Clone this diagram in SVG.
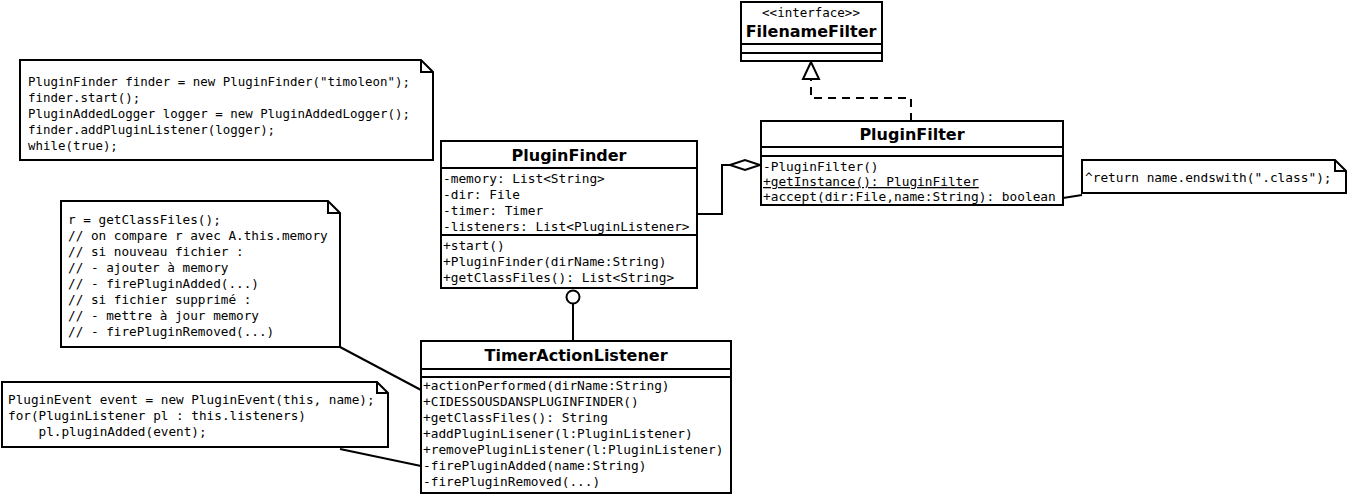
<svg xmlns="http://www.w3.org/2000/svg" width="1348" height="496" viewBox="0 0 1348 496">
<style>
.box{fill:#fff;stroke:#000;stroke-width:2}
.ln{fill:none;stroke:#000;stroke-width:2}
.m{font-family:"DejaVu Sans Mono","Liberation Mono",monospace;font-size:12.8px;fill:#000}
.n{font-family:"DejaVu Sans Mono","Liberation Mono",monospace;font-size:12.7px;fill:#000}
.t{font-family:"DejaVu Sans","Liberation Sans",sans-serif;font-weight:bold;font-size:16px;fill:#000;text-anchor:middle}
.s{font-family:"DejaVu Sans Mono","Liberation Mono",monospace;font-size:12.5px;fill:#000;text-anchor:middle}
</style>
<rect width="1348" height="496" fill="#fff"/>
<g id="connectors">
<path class="ln" d="M911,121 V98 H811 V79" stroke-dasharray="8,6"/>
<polygon points="811,62 803,79 819,79" fill="#fff" stroke="#000" stroke-width="2"/>
<path class="ln" d="M698,214 H722 V165 H730"/>
<polygon points="730,165 745,160 760,165 745,170" fill="#fff" stroke="#000" stroke-width="2"/>
<path class="ln" d="M573,304 V341"/>
<circle cx="573" cy="297" r="6.5" fill="#fff" stroke="#000" stroke-width="2"/>
<path class="ln" d="M1063,198 L1082,195"/>
<path class="ln" d="M340,347 L421,390"/>
<path class="ln" d="M340,449 L421,466"/>
</g>
<g id="note-main">
<path class="box" d="M20,60 H421 L433,72 V160 H20 Z"/>
<path class="ln" d="M421,60 V72 H433"/>
<text class="n" x="28" y="86" style="font-size:12.45px">PluginFinder finder = new PluginFinder("timoleon");</text>
<text class="n" x="28" y="102" style="font-size:12.45px">finder.start();</text>
<text class="n" x="28" y="118" style="font-size:12.45px">PluginAddedLogger logger = new PluginAddedLogger();</text>
<text class="n" x="28" y="134" style="font-size:12.45px">finder.addPluginListener(logger);</text>
<text class="n" x="28" y="150" style="font-size:12.45px">while(true);</text>
</g>
<g id="FilenameFilter">
<rect class="box" x="741" y="2" width="141" height="59"/>
<text class="s" x="811" y="17">&lt;&lt;interface&gt;&gt;</text>
<text class="t" x="811" y="37">FilenameFilter</text>
<path class="ln" d="M741,44 H882 M741,53 H882"/>
</g>
<g id="PluginFilter">
<rect class="box" x="761" y="121" width="302" height="84"/>
<text class="t" x="912" y="140">PluginFilter</text>
<path class="ln" d="M761,147 H1063 M761,156 H1063"/>
<text class="m" x="763" y="171">-PluginFilter()</text>
<text class="m" x="763" y="186" text-decoration="underline">+getInstance(): PluginFilter</text>
<text class="m" x="763" y="201">+accept(dir:File,name:String): boolean</text>
</g>
<g id="note-filter">
<path class="box" d="M1082,160 H1335 L1346,171 V193 H1082 Z"/>
<path class="ln" d="M1335,160 V171 H1346"/>
<text class="m" x="1085" y="182">^return name.endswith(".class");</text>
</g>
<g id="PluginFinder">
<rect class="box" x="441" y="141" width="256" height="147"/>
<text class="t" x="569" y="161">PluginFinder</text>
<path class="ln" d="M441,168 H697 M441,235 H697"/>
<text class="m" x="443" y="183">-memory: List&lt;String&gt;</text>
<text class="m" x="443" y="199">-dir: File</text>
<text class="m" x="443" y="215">-timer: Timer</text>
<text class="m" x="443" y="231">-listeners: List&lt;PluginListener&gt;</text>
<text class="m" x="443" y="250">+start()</text>
<text class="m" x="443" y="266">+PluginFinder(dirName:String)</text>
<text class="m" x="443" y="282">+getClassFiles(): List&lt;String&gt;</text>
</g>
<g id="note-timer">
<path class="box" d="M61,201 H328 L340,213 V347 H61 Z"/>
<path class="ln" d="M328,201 V213 H340"/>
<text class="n" x="68" y="224">r = getClassFiles();</text>
<text class="n" x="68" y="240">// on compare r avec A.this.memory</text>
<text class="n" x="68" y="256">// si nouveau fichier :</text>
<text class="n" x="68" y="272">// - ajouter à memory</text>
<text class="n" x="68" y="288">// - firePluginAdded(...)</text>
<text class="n" x="68" y="304">// si fichier supprimé :</text>
<text class="n" x="68" y="320">// - mettre à jour memory</text>
<text class="n" x="68" y="336">// - firePluginRemoved(...)</text>
</g>
<g id="TimerActionListener">
<rect class="box" x="421" y="341" width="310" height="152"/>
<text class="t" x="576" y="361">TimerActionListener</text>
<path class="ln" d="M421,369 H731 M421,377 H731"/>
<text class="m" x="423" y="390">+actionPerformed(dirName:String)</text>
<text class="m" x="423" y="406">+CIDESSOUSDANSPLUGINFINDER()</text>
<text class="m" x="423" y="422">+getClassFiles(): String</text>
<text class="m" x="423" y="438">+addPluginLisener(l:PluginListener)</text>
<text class="m" x="423" y="454">+removePluginListener(l:PluginListener)</text>
<text class="m" x="423" y="470">-firePluginAdded(name:String)</text>
<text class="m" x="423" y="486">-firePluginRemoved(...)</text>
</g>
<g id="note-event">
<path class="box" d="M2,382 H377 L388,393 V447 H2 Z"/>
<path class="ln" d="M377,382 V393 H388"/>
<text class="n" x="8" y="404">PluginEvent event = new PluginEvent(this, name);</text>
<text class="n" x="8" y="420">for(PluginListener pl : this.listeners)</text>
<text class="n" x="8" y="436" xml:space="preserve">    pl.pluginAdded(event);</text>
</g>
</svg>
